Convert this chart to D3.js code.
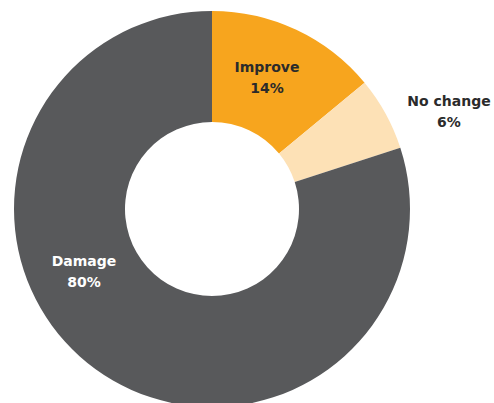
<!DOCTYPE html>
<html>
<head>
<meta charset="utf-8">
<script src="https://cdn.jsdelivr.net/npm/d3@7"></script>
<style>
  html, body { margin: 0; padding: 0; background: #fff; }
  svg { display: block; }
</style>
</head>
<body>
<svg id="chart" width="494" height="403"></svg>
<script>
// Share of respondents by outcome
const categories = ["Improve", "No change", "Damage"];
const values = [14, 6, 80];
const valueLabels = ["14%", "6%", "80%"];
const colors = ["#F7A51E", "#FDE1B6", "#58595B"];
const labelColors = ["#2b2b2b", "#2b2b2b", "#ffffff"];

const svg = d3.select("#chart");
const cx = 212, cy = 209, outerR = 198, innerR = 87;

const data = categories.map((c, i) => ({ name: c, value: values[i], label: valueLabels[i], color: colors[i], text: labelColors[i] }));

const pie = d3.pie().value(d => d.value).sort(null);
const arc = d3.arc().innerRadius(innerR).outerRadius(outerR);

const g = svg.append("g").attr("transform", `translate(${cx},${cy})`);
const arcs = pie(data);

g.selectAll("path").data(arcs).enter().append("path")
  .attr("d", arc)
  .attr("fill", d => d.data.color);

// Label anchors relative to the centre: inside for the large slices, outside for the thin one
const labelOffsets = [[55, -133], [237, -99], [-128, 61]];

const labels = g.selectAll("g.lbl").data(arcs).enter().append("g")
  .attr("class", "lbl")
  .attr("transform", (d, i) => `translate(${labelOffsets[i][0]},${labelOffsets[i][1]})`);

labels.append("text")
  .attr("text-anchor", "middle")
  .attr("y", -4)
  .attr("font-family", "DejaVu Sans, sans-serif")
  .attr("font-weight", "bold")
  .attr("font-size", 14)
  .attr("fill", d => d.data.text)
  .text(d => d.data.name);

labels.append("text")
  .attr("text-anchor", "middle")
  .attr("y", 17)
  .attr("font-family", "DejaVu Sans, sans-serif")
  .attr("font-weight", "bold")
  .attr("font-size", 14)
  .attr("fill", d => d.data.text)
  .text(d => d.data.label);
</script>
</body>
</html>
